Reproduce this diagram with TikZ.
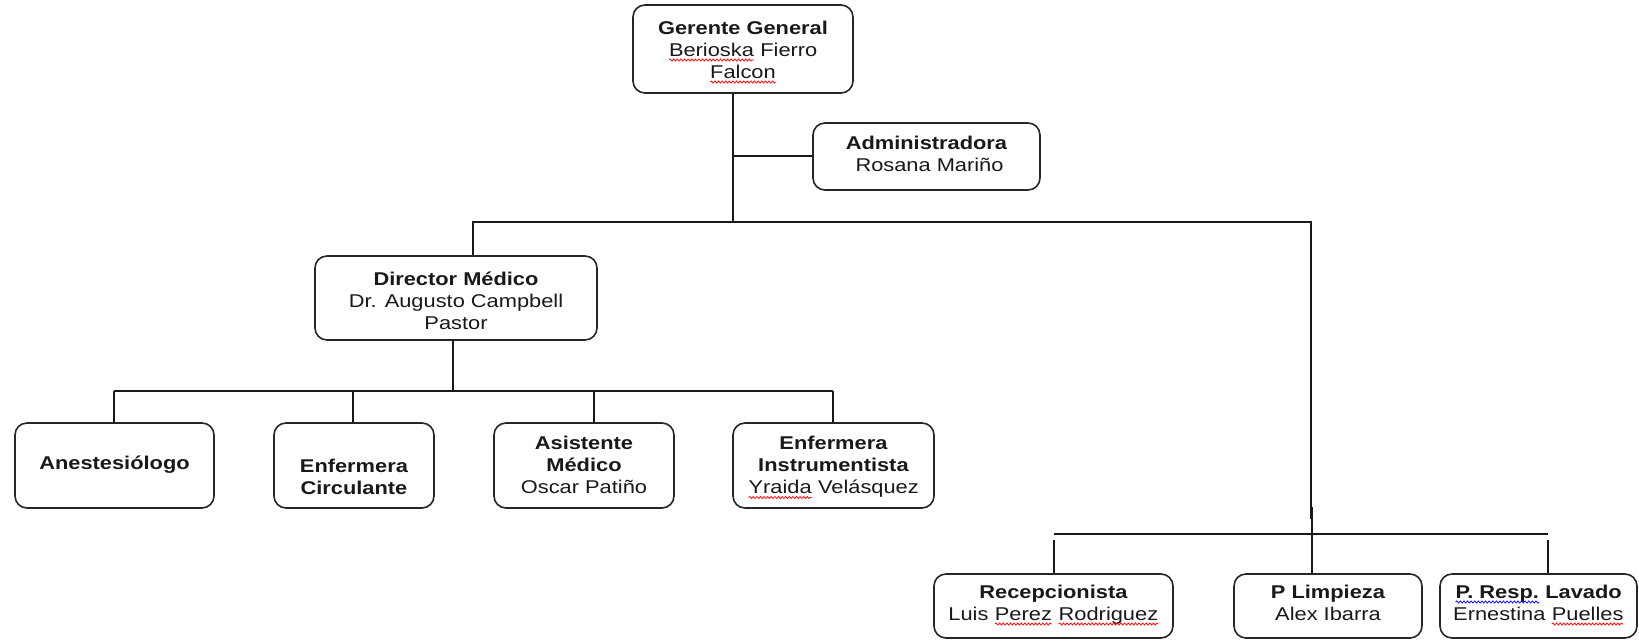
\documentclass[tikz,border=0pt]{standalone}
\usepackage{fontspec}
\setmainfont{Liberation Sans}[FakeStretch=1.18]
\usetikzlibrary{decorations.pathmorphing}

% spell-check style wavy underline under a word
\newcommand\wavyword[2]{\tikz[baseline=(w.base)]{%
  \node[shape=rectangle, inner sep=0pt, outer sep=0pt, minimum width=0pt,
    minimum height=0pt, draw=none, fill=none, rounded corners=0pt,
    align=left, text=black!90] (w) {#2};
  \draw[#1, line width=0.7pt, rounded corners=0pt,
    decorate, decoration={snake, amplitude=1.1pt, segment length=3.6pt}]
    ([yshift=-4pt]w.base west) -- ([yshift=-4pt]w.base east);}}
\newcommand\redwave[1]{\wavyword{red}{#1}}
\newcommand\bluewave[1]{\wavyword{blue}{#1}}

% fixed height of a block's first line and fixed depth of its last line
\newcommand\toprow[1]{\rule{0pt}{#1}}
\newcommand\lastrow[2]{\raisebox{0pt}[\height][#1]{#2}}

\tikzset{
  unit/.style={draw=black!85, line width=1.6pt, rounded corners=12pt, fill=white,
    inner sep=0pt, align=center, text=black!90,
    font=\fontsize{18.5}{22}\selectfont},
  link/.style={draw=black!90, line width=1.6pt},
}

\begin{document}
\begin{tikzpicture}[x=1pt,y=-1pt]
\useasboundingbox (0,0) rectangle (1639,641);

% boxes
\node[unit, minimum width=220pt, minimum height=88pt] (gg) at (743,49)
  {\toprow{16pt}\textbf{Gerente General}\\\redwave{Berioska} Fierro\\\lastrow{2pt}{\redwave{Falcon}}};
\node[unit, minimum width=227pt, minimum height=67pt] (adm) at (926.5,156.5)
  {\toprow{16pt}\textbf{Administradora}\\\lastrow{8pt}{\ Rosana Mariño}};
\node[unit, minimum width=282pt, minimum height=84pt] (dir) at (456,298)
  {\toprow{21pt}\textbf{Director Médico}\\Dr. Augusto Campbell\\\lastrow{2pt}{Pastor}};

\node[unit, minimum width=199pt, minimum height=85pt] (ane) at (114.5,465.5)
  {\toprow{16pt}\lastrow{9pt}{\textbf{Anestesiólogo}}};
\node[unit, minimum width=160pt, minimum height=85pt] (enc) at (354,465.5)
  {\toprow{16pt}\\\textbf{Enfermera}\\\lastrow{2pt}{\textbf{Circulante}}};
\node[unit, minimum width=180pt, minimum height=85pt] (asi) at (584,465.5)
  {\toprow{16pt}\textbf{Asistente}\\\textbf{Médico}\\\lastrow{4pt}{Oscar Patiño}};
\node[unit, minimum width=201pt, minimum height=85pt] (ens) at (833.5,465.5)
  {\toprow{16pt}\textbf{Enfermera}\\\textbf{Instrumentista}\\\lastrow{4pt}{\redwave{Yraida} Velásquez}};

\node[unit, minimum width=239pt, minimum height=64pt] (rec) at (1053.5,606)
  {\toprow{16pt}\textbf{Recepcionista}\\\lastrow{10pt}{Luis \redwave{Perez} \redwave{Rodriguez}}};
\node[unit, minimum width=188pt, minimum height=64pt] (lim) at (1328,606)
  {\toprow{16pt}\textbf{P Limpieza}\\\lastrow{10pt}{Alex Ibarra}};
\node[unit, minimum width=197pt, minimum height=64pt] (lav) at (1538.5,606)
  {\toprow{16pt}\bluewave{\textbf{P. Resp.}}\textbf{ Lavado}\\\lastrow{10pt}{Ernestina \redwave{Puelles}}};

% junction points
\coordinate (gj) at (733,222);
\coordinate (aj) at (733,156);
\coordinate (busL) at (473,222);
\coordinate (busR) at (1311,222);
\coordinate (jogA) at (1311,519);
\coordinate (jogB) at (1312,519);
\coordinate (dj) at (453,391);
\coordinate (mL) at (114,391);
\coordinate (mR) at (833,391);
\coordinate (c2) at (353,391);
\coordinate (c3) at (594,391);
\coordinate (sL) at (1054,534);
\coordinate (sR) at (1548,534);
\coordinate (sLt) at (1054,540);
\coordinate (sRt) at (1548,540);

% top level
\draw[link] (gg.south -| gj) -- (gj);
\draw[link] (aj) -- (adm.west |- aj);
\draw[link] (dir.north -| busL) -- (busL) -- (busR) -- (jogA);
\draw[line width=3pt, black!90] (1311.8,507) -- (1311.8,519);
\draw[link] (jogB) -- (lim.north -| jogB);

% medical branch
\draw[link] (dir.south -| dj) -- (dj);
\draw[link] (mL) -- (mR);
\draw[link] (mL) -- (ane.north -| mL);
\draw[link] (c2) -- (enc.north -| c2);
\draw[link] (c3) -- (asi.north -| c3);
\draw[link] (mR) -- (ens.north -| mR);

% services branch
\draw[link] (sL) -- (sR);
\draw[link] (sLt) -- (rec.north -| sLt);
\draw[link] (sRt) -- (lav.north -| sRt);
\end{tikzpicture}
\end{document}
